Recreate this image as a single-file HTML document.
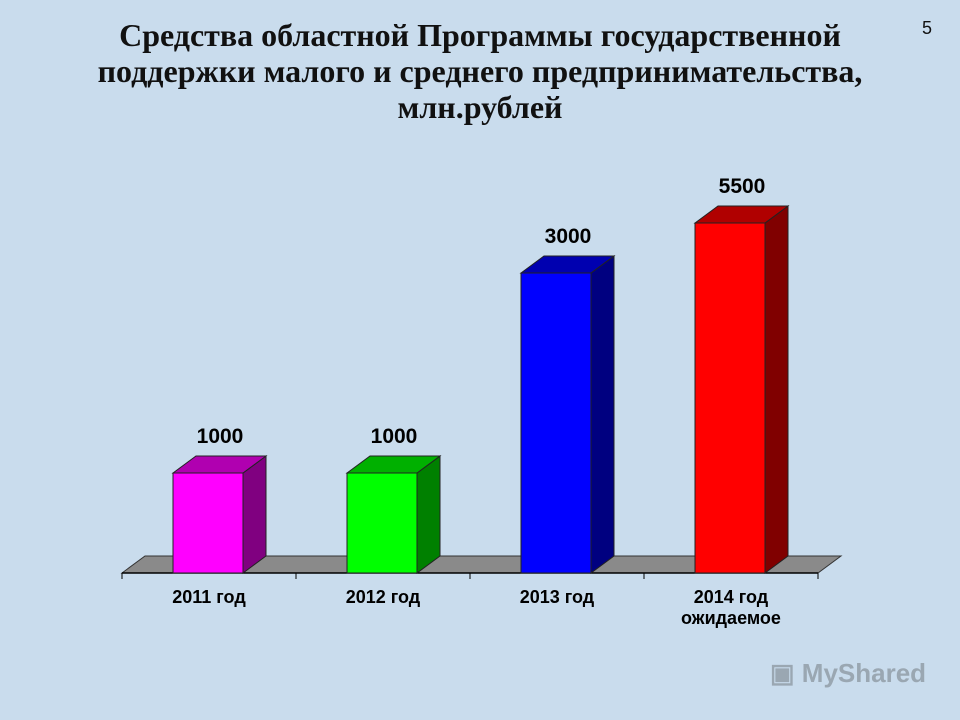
<!DOCTYPE html>
<html><head><meta charset="utf-8"><style>
html,body{margin:0;padding:0}
body{width:960px;height:720px;overflow:hidden;background:#c9dced;font-family:"Liberation Sans",sans-serif;position:relative}
.t{position:absolute;left:0;width:960px;text-align:center;font-family:"Liberation Serif",serif;font-weight:bold;font-size:32px;color:#111;line-height:36px}
</style></head><body>
<div class="t" style="top:17px;left:0;width:960px">Средства областной Программы государственной<br>поддержки малого и среднего предпринимательства,<br>млн.рублей</div>
<div style="position:absolute;left:922px;top:18px;font-size:18px;color:#111">5</div>
<div style="position:absolute;left:770px;top:658px;font-size:26px;color:#9aa7b2;font-weight:bold">▣ MyShared</div>
<svg id="c" width="960" height="720" style="position:absolute;left:0;top:0"></svg>
<script>
const categories=["2011 год","2012 год","2013 год","2014 год"];
const subLabels=["","","","ожидаемое"];
const values=[1000,1000,3000,3500];
const valueLabels=["1000","1000","3000","5500"];
const fronts=["#ff00ff","#00ff00","#0000ff","#ff0000"];
const sides=["#800080","#008000","#000080","#800000"];
const tops=["#b000b0","#00b000","#0000b0","#b00000"];
const NS="http://www.w3.org/2000/svg";
const svg=document.getElementById('c');
const base=573,x0=122,x1=818,dx=23,dy=17,bw=70;
const cw=(x1-x0)/categories.length;
function y(v){return base-v*0.1;}
function xc(i){return x0+cw*(i+0.5);}
function el(t,a){const e=document.createElementNS(NS,t);for(const k in a)e.setAttribute(k,a[k]);svg.appendChild(e);return e;}
const floor=el('polygon',{points:`${x0},${base} ${x1},${base} ${x1+dx},${base-dy} ${x0+dx},${base-dy}`,fill:'#8a8a8a',stroke:'#333','stroke-width':1});


const ax=el('line',{x1:x0,y1:base,x2:x1,y2:base,stroke:'#000','stroke-width':1.5});


for(let i=0;i<=categories.length;i++){
  const tk=el('line',{x1:x0+cw*i,y1:base,x2:x0+cw*i,y2:base+6,stroke:'#000'});
  
  
}
categories.forEach((c,i)=>{
  const l=xc(i)-bw/2-1,r=l+bw,t=y(values[i]);
  const g=document.createElementNS(NS,'g');svg.appendChild(g);
  
  
  const add=(pts,f)=>{const p=document.createElementNS(NS,'polygon');p.setAttribute('points',pts);p.setAttribute('fill',f);p.setAttribute('stroke','#222');p.setAttribute('stroke-width','1');g.appendChild(p);};
  add(`${l},${t} ${r},${t} ${r},${base} ${l},${base}`,fronts[i]);
  add(`${r},${t} ${r+dx},${t-dy} ${r+dx},${base-dy} ${r},${base}`,sides[i]);
  add(`${l},${t} ${l+dx},${t-dy} ${r+dx},${t-dy} ${r},${t}`,tops[i]);
  const vl=el('text',{x:l+bw/2+12,y:t-dy-13,'text-anchor':'middle','font-size':21,'font-weight':'bold',fill:'#000'});
  vl.textContent=valueLabels[i];
  
  
  const cl=el('text',{x:xc(i),y:603,'text-anchor':'middle','font-size':18,'font-weight':'bold',fill:'#000'});
  cl.textContent=c;
  
  
  if(subLabels[i]){
    const sl=el('text',{x:xc(i),y:624,'text-anchor':'middle','font-size':18,'font-weight':'bold',fill:'#000'});
    sl.textContent=subLabels[i];
    
    
  }
});
</script>
</body></html>
